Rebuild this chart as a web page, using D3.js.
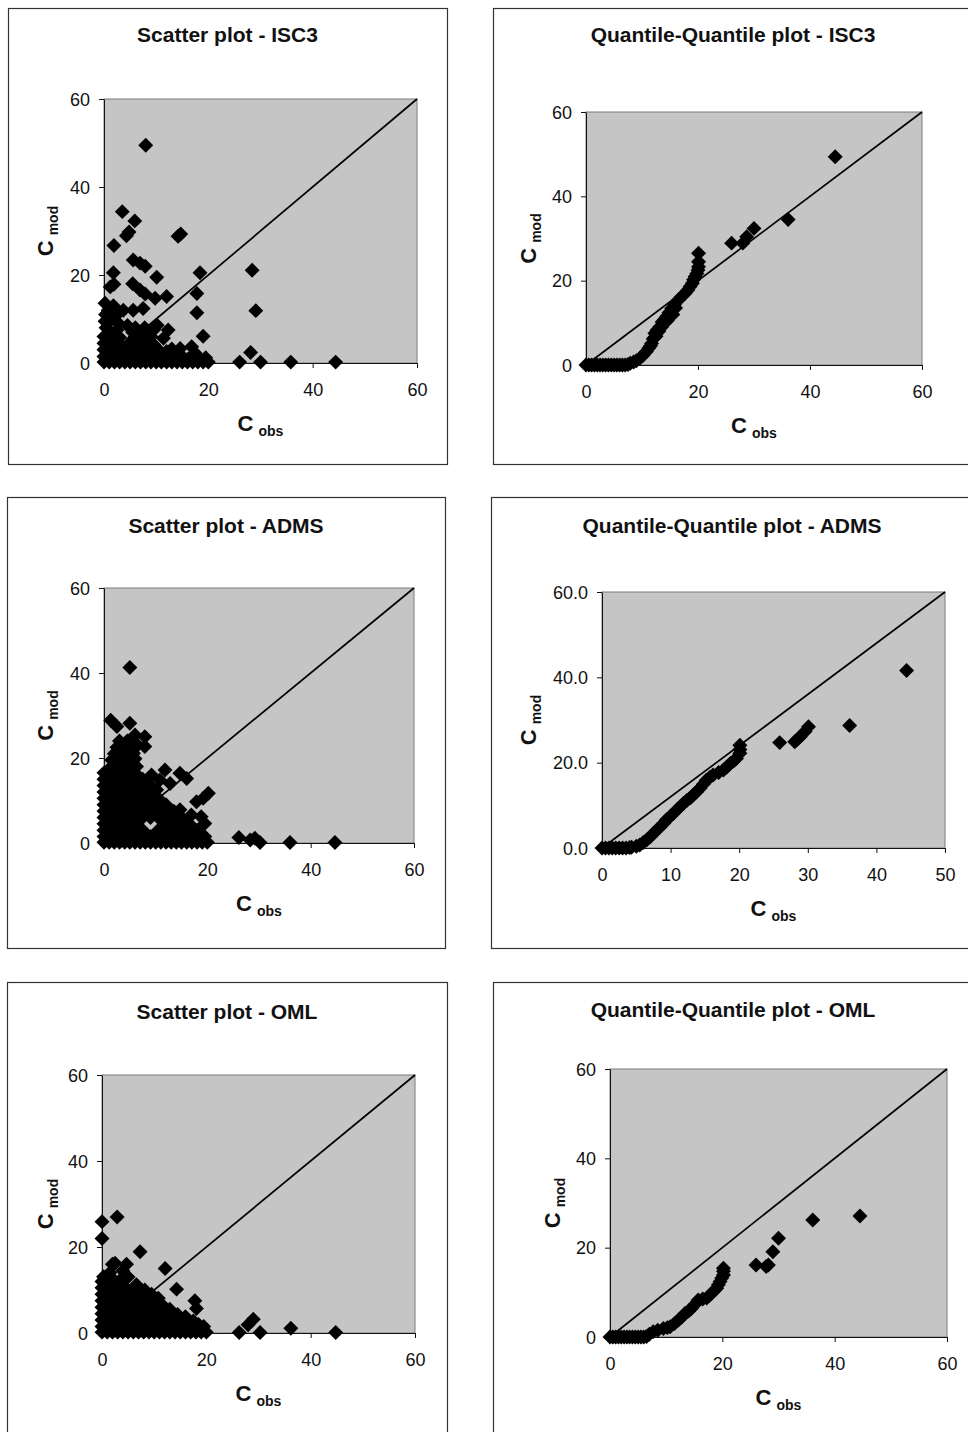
<!DOCTYPE html>
<html><head><meta charset="utf-8">
<script src="https://cdn.jsdelivr.net/npm/d3@7"></script>
<style>body{margin:0;background:#fff}svg{display:block}</style>
</head><body>
<script>
// ---------- DATA (obs, mod) ----------
const isc3Scatter = [
 [8,49.5],[3.5,34.4],[5.9,32.3],[4.8,29.8],[4.3,28.9],[1.9,26.7],[14.7,29.3],[14.2,28.8],
 [5.6,23.4],[6.9,22.7],[7.9,22.0],[10.1,19.5],[1.8,20.5],[1.9,17.9],[1.2,17.3],[5.5,18],
 [6.9,16.6],[7.9,15.7],[9.8,14.7],[12,15.1],[18.4,20.5],[17.8,15.8],[17.8,11.4],[19,6.1],
 [28.4,21.1],[29.1,11.9],[28.1,2.4],[26,0.2],[30,0.2],[35.8,0.2],[44.4,0.2],
 [0.2,13.6],[1.8,13],[3.7,12],[5.6,12],[7.5,12.4],[0.3,11],[0.2,9.5],[1.5,10],[2.8,9],
 [0.4,8],[4.5,8.5],[6,8],[7.8,8],[9.5,7.5],[10.2,8.6],[12.3,7.5],[11.4,5.6],[14.6,3.3],
 [16.8,3.7],[17.5,2.2],[0.8,12],[2.5,11],[1,5.2],[2.2,3.8],[4,2.3],[5.5,5.3],[7,4],[8.5,2.5],
 [10,3.5],[11,1],[14,2.2],[16,0.8],[19.5,1.2],
 [0,0.2],[1,0.2],[2,0.2],[3,0.2],[4,0.2],[5,0.2],[6,0.2],[7,0.2],[8,0.2],[9,0.2],[10,0.2],
 [11,0.2],[12,0.2],[13,0.2],[14,0.2],[15,0.2],[16,0.2],[17,0.2],[18,0.2],[19,0.2],[20,0.2],
 [0,1.5],[1.5,1.5],[3,1.5],[4.5,1.5],[6,1.5],[7.5,1.5],[9,1.5],[10.5,1.5],[12,1.4],[13.5,1.3],
 [15,1.5],[16.5,1.2],[18,1.0],
 [0,3],[1.5,3],[3,3],[4.5,3],[6,3],[7.5,3],[9,3],[10.5,2.8],[12,2.6],[13,3.2],
 [0,4.5],[1.5,4.5],[3,4.5],[5,4.6],[6.5,4.5],[8,4.4],[9.5,4.2],
 [0,6],[1.5,6.2],[3,5.8],[6,6],[7.5,6.3],[9,6],
 [1,7.3],[2.5,7.5],[5.5,7],[8,7.4]
];
const isc3QQ = [
 [0,0],[0.5,0],[1,0],[1.5,0],[2,0],[2.5,0],[3,0],[3.5,0],[4,0],[4.5,0],[5,0],[5.5,0],[6,0],
 [6.5,0],[7,0],[7.5,0.1],[7.9,0.4],[8.5,0.7],[9,1.0],[9.6,1.6],[10.2,2.3],[10.8,3.2],[11.2,4.0],
 [11.5,4.5],[11.7,5.1],[12,6.2],[12.3,7.5],[12.5,6.8],[12.7,8.3],[13,8],[13.2,9.1],[13.5,9],
 [13.6,10.2],[14,10.8],[14.4,11.5],[14.5,10.5],[14.8,12.4],[15.3,13.4],[15.5,12],[15.8,14.3],
 [16,13.5],[16.5,15.4],[17,16.1],[17.7,17],[18.2,17.8],[18.6,18.6],
 [19,19.4],[19.2,20.2],[19.5,21],[19.8,21.7],[20,22.5],[20.1,23.3],[20.1,24.5],[20.1,26.5],
 [26,28.9],[28,28.9],[28.7,30.4],[30,32.4],[36.1,34.5],[44.5,49.4]
];
const admsScatter = [
 [5,41.3],[5,28.2],[1.3,28.9],[2.5,27.4],[6,25.4],[7.9,25],[7.9,22.7],[5.7,21.1],[4.3,18],[6.3,18],
 [11.8,17.2],[14.7,16.4],[16,15.2],[9.2,16],[10.8,14.8],[12.8,14],[10.2,12.5],[20.2,11.7],
 [19.2,10.5],[17.9,9.7],[18.8,6.2],[19.5,4.6],[16.9,6.6],[14.7,7.8],[26.1,1.3],[28.3,0.7],
 [29.2,1.1],[30.2,0.1],[36,0.1],[44.7,0.1],
 [0,0.2],[1,0.2],[2,0.2],[3,0.2],[4,0.2],[5,0.2],[6,0.2],[7,0.2],[8,0.2],[9,0.2],[10,0.2],
 [11,0.2],[12,0.2],[13,0.2],[14,0.2],[15,0.2],[16,0.2],[17,0.2],[18,0.2],[19,0.2],[20,0.2],
 [0,1.5],[1.5,1.5],[3,1.5],[4.5,1.5],[6,1.5],[7.5,1.5],[9,1.5],[10.5,1.5],[12,1.5],[13.5,1.5],
 [15,1.5],[16.5,1.5],[18,1.5],[19.5,1.5],
 [0,3],[1.5,3],[3,3],[4.5,3],[6,3],[7.5,3],[10.5,3],[12,3],[13.5,3],[15,3],[16.5,3],[18,3],
 [0,4.5],[1.5,4.5],[3,4.5],[4.5,4.5],[6,4.5],[12,4.5],[13.5,4.5],[15,4.5],[16.5,4.5],
 [0,6],[1.5,6],[3,6],[4.5,6],[6,6],[7.5,6],[9,6],[10.5,6],[12,6],[13.5,6],[15,6],
 [0,7.5],[1.5,7.5],[3,7.5],[4.5,7.5],[6,7.5],[7.5,7.5],[9,7.5],[10.5,7.5],[12,7.5],[13.5,7.5],
 [0,9],[1.5,9],[3,9],[4.5,9],[6,9],[7.5,9],[9,9],[10.5,9],[12,9],
 [0,10.5],[1.5,10.5],[3,10.5],[4.5,10.5],[6,10.5],[7.5,10.5],[10.5,10.5],
 [0,12],[1.5,12],[3,12],[4.5,12],[6,12],[7.5,12],[9,12],
 [0,13.5],[1.5,13.5],[3,13.5],[4.5,13.5],[6,13.5],[7.5,13.5],[9,13.5],
 [0,15],[1.5,15],[3,15],[4.5,15],[6,15],[7.5,15],
 [0,16.5],[1.5,16.5],[3,16.5],[4.5,16.5],[6,16.5],
 [1.5,18],[3,18],[4.5,18.5],
 [1.5,19.5],[3,19.5],[4.5,19.5],[6,19.8],
 [2,21],[3.5,21],[5,21.5],
 [2.5,22.5],[4,22.5],[6.5,23],
 [3,24],[4.5,24]
];
const admsQQ = [
 [0,0],[0.5,0],[1,0],[1.5,0],[2,0],[2.5,0],[3,0],[3.5,0],[4,0.1],[4.3,0.2],[5,0.4],[5.5,0.7],
 [6,1.3],[6.5,1.9],[7,2.6],[7.5,3.4],[8,4.2],[8.5,5],[9,5.8],[9.4,6.6],[9.9,7.3],[10.4,8.1],
 [10.9,8.9],[11.4,9.7],[11.9,10.5],[12.4,11.2],[12.9,11.8],[13.3,12.4],[13.8,13.2],[14.3,14],
 [14.8,15],[15.2,15.9],[15.7,16.5],[16.2,17.1],[17,17.7],[17.7,18.3],[18.2,19],[18.7,19.8],
 [19.2,20.4],[19.6,21],[20.1,22.2],[20.1,23.1],[20.1,24.1],[25.9,24.7],[28.1,24.9],[28.5,25.5],
 [28.9,26.1],[29.6,27.3],[30.1,28.4],[36.1,28.7],[44.4,41.6]
];
const omlScatter = [
 [2.9,27],[0,25.9],[0,22],[7.3,18.9],[2.5,16.2],[4.7,16],[3.8,12.7],[0.3,13.1],[12.1,15],
 [14.3,10.2],[6.6,11.2],[8.2,10],[17.8,7.5],[18.1,5.7],[10.8,8.1],[26.3,0.1],[29,3.2],[28,1.9],
 [30.3,0.1],[36.2,1.1],[44.8,0.1],
 [1.5,14],[4,14.5],[2,16],[5,13],[9.5,9],[11,6.8],[13,5.5],[14.5,4.3],[16,3.8],[17.5,2.8],[18.5,2],
 [0,0.2],[1,0.2],[2,0.2],[3,0.2],[4,0.2],[5,0.2],[6,0.2],[7,0.2],[8,0.2],[9,0.2],[10,0.2],
 [11,0.2],[12,0.2],[13,0.2],[14,0.2],[15,0.2],[16,0.2],[17,0.2],[18,0.2],[19,0.2],[20,0.2],
 [0,1.5],[1.5,1.5],[3,1.5],[4.5,1.5],[6,1.5],[7.5,1.5],[9,1.5],[10.5,1.5],[12,1.5],[13.5,1.5],
 [15,1.5],[16.5,1.5],[18,1.5],[19.5,1.5],
 [0,3],[1.5,3],[3,3],[4.5,3],[6,3],[7.5,3],[9,3],[10.5,3],[12,3],[13.5,3],[15,3],[16.5,3],
 [0,4.5],[1.5,4.5],[3,4.5],[4.5,4.5],[6,4.5],[7.5,4.5],[9,4.5],[10.5,4.5],[12,4.5],[13.5,4.5],
 [0,6],[1.5,6],[3,6],[4.5,6],[6,6],[7.5,6],[9,6],[10.5,6],[12,6],
 [0,7.5],[1.5,7.5],[3,7.5],[4.5,7.5],[6,7.5],[7.5,7.5],[9,7.5],[10.5,7.5],
 [0,9],[1.5,9],[3,9],[4.5,9],[6,9],[7.5,9],
 [0,10.5],[1.5,10.5],[3,10.5],[4.5,10.5],
 [0,12],[1.5,12],[2.5,12]
];
const omlQQ = [
 [0,0],[0.5,0],[1,0],[1.5,0],[2,0],[2.5,0],[3,0],[3.5,0],[4,0],[4.5,0],[5,0],[5.5,0],[6,0],
 [6.5,0.1],[7,0.6],[7.7,1.2],[8.5,1.5],[9.5,1.9],[10.2,2.1],[10.7,2.3],[11.5,3],[12.2,3.8],
 [12.8,4.5],[13.4,5.3],[14,5.8],[14.5,6.4],[15.1,7.3],[15.7,8.3],[16.5,8.5],[17.2,8.7],
 [17.7,9.3],[18.1,9.8],[18.6,10.4],[19,10.9],[19.3,11.7],[19.6,12.4],[19.9,13.2],[20.2,13.9],
 [20.2,14.7],[20.2,15.4],[26,16.1],[27.8,15.8],[28.2,16.1],[29,19.1],[30,22.1],[36.1,26.2],
 [44.5,27.1]
];
const ticks60 = [0,20,40,60];
const ticks50 = [0,10,20,30,40,50];
const titles = ["Scatter plot - ISC3","Quantile-Quantile plot - ISC3","Scatter plot - ADMS",
                "Quantile-Quantile plot - ADMS","Scatter plot - OML","Quantile-Quantile plot - OML"];

// ---------- LAYOUT ----------
const FONT = "'Liberation Sans', Arial, sans-serif";
const panels = [
 {title:titles[0], data:isc3Scatter, frame:[8,8,447,464], plot:[104,417,99,363], xMax:60, yMax:60, xTicks:ticks60, yTicks:ticks60, yFmt:d3.format("d"), diag:[[0,0],[60,60]], titleY:42, yLabX:45},
 {title:titles[1], data:isc3QQ, frame:[493,8,973,464], plot:[586,922,112,365], xMax:60, yMax:60, xTicks:ticks60, yTicks:ticks60, yFmt:d3.format("d"), diag:[[0,0],[60,60]], titleY:42, yLabX:528},
 {title:titles[2], data:admsScatter, frame:[7,497,445,948], plot:[104,414,588,843], xMax:60, yMax:60, xTicks:ticks60, yTicks:ticks60, yFmt:d3.format("d"), diag:[[0,0],[60,60]], titleY:533, yLabX:45},
 {title:titles[3], data:admsQQ, frame:[491,497,973,948], plot:[602,945,592,848], xMax:50, yMax:60, xTicks:ticks50, yTicks:ticks60, yFmt:d3.format(".1f"), diag:[[0,0],[50,60]], titleY:533, yLabX:528},
 {title:titles[4], data:omlScatter, frame:[7,982,447,1445], plot:[102,415,1075,1333], xMax:60, yMax:60, xTicks:ticks60, yTicks:ticks60, yFmt:d3.format("d"), diag:[[0,0],[60,60]], titleY:1019, yLabX:45},
 {title:titles[5], data:omlQQ, frame:[493,982,973,1445], plot:[610,947,1069,1337], xMax:60, yMax:60, xTicks:ticks60, yTicks:ticks60, yFmt:d3.format("d"), diag:[[0,0],[60,60]], titleY:1017, yLabX:552}
];

const svg = d3.select("body").append("svg").attr("width",968).attr("height",1432)
  .style("font-family",FONT);

const diamond = d3.symbol().type(d3.symbolSquare).size(112)();

panels.forEach(p => {
  const g = svg.append("g");
  const [fx0,fy0,fx1,fy1] = p.frame;
  g.append("rect").attr("x",fx0+0.5).attr("y",fy0+0.5).attr("width",fx1-fx0).attr("height",fy1-fy0)
    .attr("fill","#fff").attr("stroke","#333").attr("stroke-width",1.2);
  const [px0,px1,pyTop,pyBot] = p.plot;
  const x = d3.scaleLinear().domain([0,p.xMax]).range([px0,px1]);
  const y = d3.scaleLinear().domain([0,p.yMax]).range([pyBot,pyTop]);

  g.append("rect").attr("x",px0).attr("y",pyTop).attr("width",px1-px0).attr("height",pyBot-pyTop)
    .attr("fill","#c5c5c5").attr("stroke","#7a7a7a").attr("stroke-width",1);

  // title
  g.append("text").attr("x",(fx0+fx1)/2).attr("y",p.titleY).attr("text-anchor","middle")
    .attr("font-weight","bold").attr("font-size",21).attr("fill","#111").text(p.title);

  // axes
  const xa = g.append("g").attr("transform",`translate(0,${pyBot})`)
    .call(d3.axisBottom(x).tickValues(p.xTicks).tickSize(5).tickSizeOuter(0));
  xa.selectAll("text").attr("y",33).attr("dy",0).attr("font-size",18).attr("font-family",FONT).attr("fill","#111");
  const ya = g.append("g").attr("transform",`translate(${px0},0)`)
    .call(d3.axisLeft(y).tickValues(p.yTicks).tickFormat(p.yFmt).tickSize(5).tickSizeOuter(0));
  ya.selectAll("text").attr("x",-14).attr("dy","0.35em").attr("font-size",18).attr("font-family",FONT).attr("fill","#111");
  g.selectAll(".domain").attr("stroke","#111");
  g.selectAll(".tick line").attr("stroke","#111");

  // 1:1 line
  g.append("path").datum(p.diag)
    .attr("d",d3.line().x(d=>x(d[0])).y(d=>y(d[1])))
    .attr("stroke","#000").attr("stroke-width",1.7).attr("fill","none");

  // points
  g.append("g").selectAll("path").data(p.data).join("path")
    .attr("d",diamond)
    .attr("transform",d=>`translate(${x(d[0])},${y(d[1])}) rotate(45)`)
    .attr("fill","#000");

  // axis titles
  const xl = g.append("text").attr("x",(px0+px1)/2).attr("y",pyBot+68).attr("text-anchor","middle")
    .attr("font-weight","bold").attr("font-size",22).attr("fill","#111");
  xl.append("tspan").text("C");
  xl.append("tspan").attr("font-size",14).attr("dx",5).attr("dy",5).text("obs");

  const yl = g.append("text")
    .attr("transform",`translate(${p.yLabX+8},${(pyTop+pyBot)/2}) rotate(-90)`)
    .attr("text-anchor","middle").attr("font-weight","bold").attr("font-size",22).attr("fill","#111");
  yl.append("tspan").text("C");
  yl.append("tspan").attr("font-size",14).attr("dx",5).attr("dy",5).text("mod");
});
</script>
</body></html>
